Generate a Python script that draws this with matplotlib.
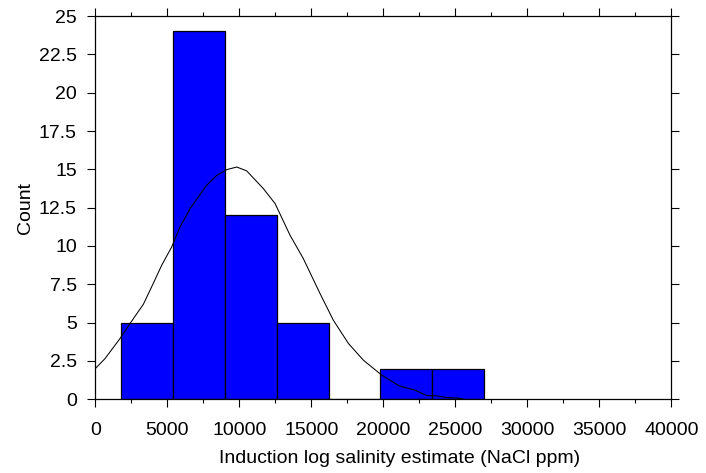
import matplotlib
matplotlib.use("Agg")
import matplotlib.pyplot as plt
from matplotlib.ticker import MultipleLocator

plt.rcParams['font.family'] = ['Liberation Sans', 'DejaVu Sans']

# Histogram data
bin_edges = [1800, 5400, 9000, 12600, 16200, 19800, 23400, 27000]
counts = [5, 24, 12, 5, 0, 2, 2]

# Fitted density curve
curve_x = [0, 674, 1715, 2410, 3340, 3910, 4610, 5300, 5880, 6580, 7730, 8430,
           9120, 9820, 10510, 11670, 12480, 13520, 14440, 15600, 16530, 17580,
           18620, 19850, 21100, 22200, 23010, 23710, 24400, 25100, 25520]
curve_y = [2.0, 2.65, 3.96, 4.94, 6.2, 7.33, 8.74, 9.93, 11.24, 12.44, 13.96, 14.6,
           14.98, 15.15, 14.9, 13.74, 12.77, 10.7, 9.18, 6.9, 5.15, 3.63,
           2.54, 1.6, 0.87, 0.59, 0.24, 0.22, 0.11, 0.08, 0.02]

yticks = [0, 2.5, 5, 7.5, 10, 12.5, 15, 17.5, 20, 22.5, 25]
ytick_labels = ['0', '2.5', '5', '7.5', '10', '12.5', '15', '17.5', '20', '22.5', '25']

xlabel = "Induction log salinity estimate (NaCl ppm)"
ylabel = "Count"

fig = plt.figure(figsize=(7.06, 4.73), dpi=100)
ax = fig.add_axes([0.135, 0.156, 0.816, 0.810])

widths = [b - a for a, b in zip(bin_edges[:-1], bin_edges[1:])]
ax.bar(bin_edges[:-1], counts, width=widths, align='edge', color='#0000FF',
       edgecolor='black', linewidth=0.9, zorder=2)
ax.plot(curve_x, curve_y, color='black', linewidth=0.75, zorder=3)

ax.set_xlim(0, 40000)
ax.set_ylim(0, 25)
ax.xaxis.set_major_locator(MultipleLocator(5000))
ax.xaxis.set_minor_locator(MultipleLocator(2500))
ax.set_yticks(yticks)
ax.set_yticklabels(ytick_labels)

ax.tick_params(axis='both', which='major', direction='out', length=5.8, width=0.8,
               labelsize=14, top=True, right=True)
ax.tick_params(axis='x', which='major', pad=10.5)
ax.tick_params(axis='y', which='major', pad=7.5)
ax.tick_params(axis='x', which='minor', direction='out', length=3, width=0.8,
               top=True)
for s in ax.spines.values():
    s.set_linewidth(0.9)

ax.set_xlabel(xlabel, fontsize=14, labelpad=7)
ax.set_ylabel(ylabel, fontsize=14, labelpad=3.6)
ax.xaxis.set_label_coords(0.528, -0.132, transform=ax.transAxes)
ax.xaxis.label.set_va('top')

fig.savefig("out.png", dpi=100)
